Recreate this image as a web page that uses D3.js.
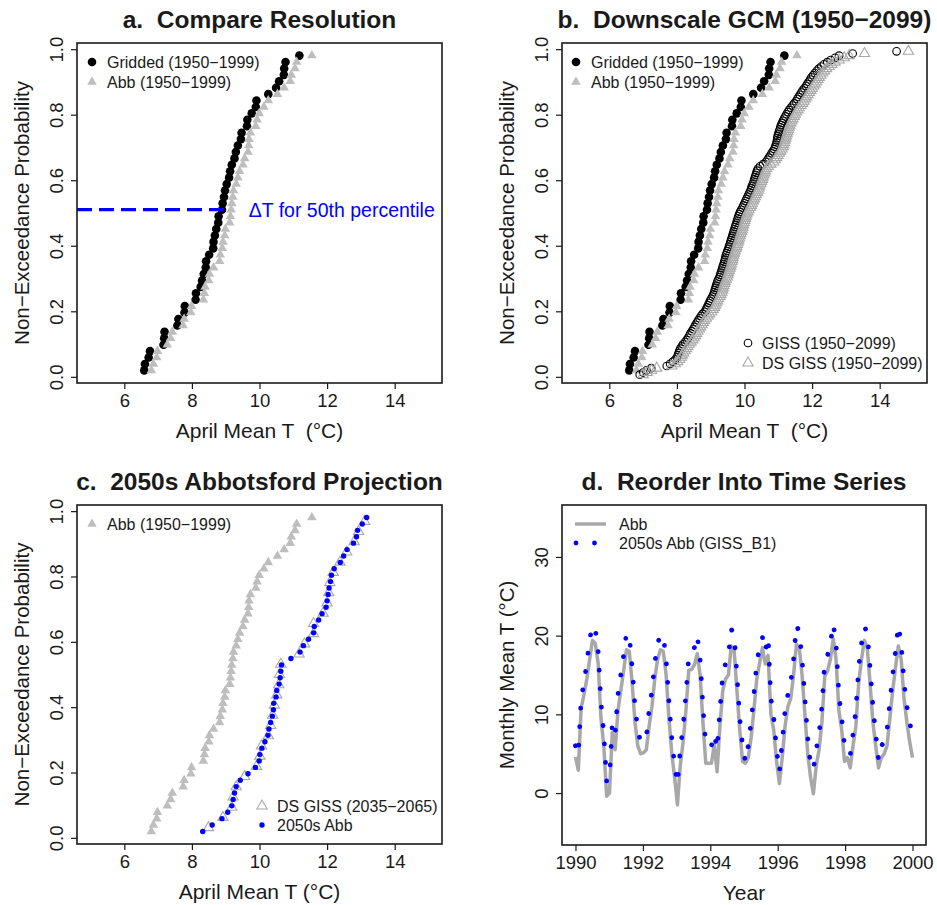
<!DOCTYPE html>
<html>
<head>
<meta charset="utf-8">
<script src="https://cdn.jsdelivr.net/npm/d3@7"></script>
<style>
  body { margin: 0; background: #fff; }
  svg text { font-family: "Liberation Sans", Arial, Helvetica, sans-serif; fill: #1a1a1a; }
</style>
</head>
<body>
<svg id="chart" width="937" height="905"></svg>
<script>
// ---- data (sorted April mean T, deg C) ----
const gridded = [6.59, 6.61, 6.72, 6.76, 7.16, 7.18, 7.19, 7.57, 7.60, 7.78, 7.79, 8.11, 8.12, 8.26, 8.30, 8.35, 8.41, 8.42, 8.51, 8.63,
  8.64, 8.68, 8.72, 8.78, 8.79, 8.89, 8.91, 8.95, 8.98, 9.03, 9.10, 9.13, 9.18, 9.26, 9.30, 9.36, 9.45, 9.47, 9.63, 9.64,
  9.77, 9.89, 9.91, 10.26, 10.49, 10.58, 10.72, 10.73, 10.77, 11.18];

const abb = [6.80, 6.86, 6.96, 6.98, 7.27, 7.37, 7.42, 7.74, 7.77, 7.97, 7.99, 8.34, 8.37, 8.39, 8.50, 8.52, 8.64, 8.82, 8.84, 8.90,
  8.92, 8.97, 8.99, 9.12, 9.14, 9.16, 9.18, 9.21, 9.23, 9.31, 9.36, 9.41, 9.51, 9.56, 9.66, 9.68, 9.69, 9.73, 9.89, 9.93,
  9.99, 10.13, 10.26, 10.53, 10.73, 10.91, 10.94, 11.05, 11.10, 11.55];

const giss = [6.90, 7.00, 7.10, 7.24, 7.70, 7.80, 7.88, 7.95, 8.00, 8.03, 8.05, 8.07, 8.10, 8.14, 8.18, 8.24, 8.29, 8.33, 8.37, 8.40,
  8.44, 8.48, 8.52, 8.55, 8.59, 8.63, 8.67, 8.71, 8.76, 8.82, 8.86, 8.89, 8.92, 8.95, 8.98, 9.01, 9.05, 9.08, 9.10, 9.12,
  9.14, 9.16, 9.18, 9.20, 9.23, 9.26, 9.28, 9.30, 9.32, 9.34, 9.36, 9.38, 9.40, 9.42, 9.43, 9.45, 9.47, 9.49, 9.52, 9.54,
  9.56, 9.58, 9.60, 9.62, 9.64, 9.66, 9.68, 9.70, 9.72, 9.74, 9.76, 9.78, 9.80, 9.82, 9.84, 9.87, 9.90, 9.94, 9.97, 10.00,
  10.03, 10.06, 10.09, 10.12, 10.15, 10.18, 10.20, 10.22, 10.25, 10.27, 10.29, 10.31, 10.33, 10.35, 10.37, 10.40, 10.46, 10.55, 10.63, 10.68,
  10.72, 10.76, 10.80, 10.84, 10.88, 10.91, 10.93, 10.95, 10.96, 10.97, 10.98, 11.00, 11.02, 11.04, 11.06, 11.08, 11.11, 11.14, 11.17, 11.21,
  11.24, 11.28, 11.32, 11.37, 11.42, 11.47, 11.52, 11.56, 11.60, 11.64, 11.68, 11.72, 11.77, 11.82, 11.86, 11.90, 11.94, 11.98, 12.03, 12.08,
  12.14, 12.20, 12.27, 12.35, 12.45, 12.55, 12.68, 12.80, 13.20, 14.50];

const dsGiss = [7.00, 7.12, 7.25, 7.40, 7.85, 7.95, 8.02, 8.08, 8.13, 8.16, 8.20, 8.24, 8.28, 8.32, 8.37, 8.42, 8.47, 8.51, 8.55, 8.58,
  8.62, 8.66, 8.70, 8.74, 8.78, 8.82, 8.87, 8.92, 8.97, 9.03, 9.07, 9.11, 9.14, 9.17, 9.20, 9.23, 9.27, 9.30, 9.33, 9.35,
  9.37, 9.39, 9.41, 9.43, 9.46, 9.49, 9.51, 9.53, 9.55, 9.57, 9.59, 9.61, 9.63, 9.65, 9.66, 9.68, 9.70, 9.72, 9.75, 9.77,
  9.79, 9.81, 9.83, 9.85, 9.87, 9.89, 9.91, 9.93, 9.95, 9.97, 9.99, 10.01, 10.03, 10.05, 10.07, 10.10, 10.13, 10.17, 10.20, 10.23,
  10.26, 10.29, 10.32, 10.35, 10.38, 10.41, 10.43, 10.45, 10.48, 10.50, 10.53, 10.55, 10.57, 10.60, 10.62, 10.65, 10.70, 10.78, 10.86, 10.91,
  10.95, 10.99, 11.03, 11.07, 11.11, 11.14, 11.16, 11.18, 11.20, 11.22, 11.24, 11.26, 11.28, 11.30, 11.32, 11.34, 11.37, 11.40, 11.43, 11.47,
  11.50, 11.54, 11.58, 11.62, 11.67, 11.72, 11.76, 11.80, 11.84, 11.88, 11.92, 11.96, 12.00, 12.05, 12.09, 12.13, 12.17, 12.21, 12.26, 12.31,
  12.37, 12.43, 12.50, 12.58, 12.68, 12.80, 12.95, 13.10, 13.55, 14.85];

const dsGiss2050 = [8.49, 8.92, 9.18, 9.22, 9.31, 9.56, 9.91, 10.01, 10.06, 10.26, 10.33, 10.39, 10.44, 10.51, 10.57, 10.59,
  10.63, 11.17, 11.33, 11.60, 11.60, 11.88, 12.00, 12.05, 12.08, 12.18, 12.38, 12.58, 12.80, 12.93, 13.11];

const abb2050 = [8.32, 8.60, 8.89, 9.06, 9.18, 9.22, 9.26, 9.31, 9.43, 9.66, 9.88, 9.99, 10.01, 10.07, 10.16, 10.25, 10.28, 10.33, 10.38, 10.41,
  10.42, 10.49, 10.51, 10.58, 10.61, 10.63, 10.65, 10.93, 11.20, 11.30, 11.45, 11.60, 11.62, 11.75, 11.85, 11.97, 12.00, 12.03, 12.06, 12.10,
  12.13, 12.21, 12.39, 12.49, 12.59, 12.78, 12.87, 12.90, 13.04, 13.17];

// monthly series, Jan 1990 .. Dec 1999
const abbMonthly = [
  4.6, 2.9, 10.8, 12.5, 14.5, 17.0, 19.4, 19.0, 16.5, 9.5, 6.0, -0.4,
  0.0, 7.7, 5.5, 10.5, 13.0, 15.5, 18.2, 18.0, 14.0, 9.0, 6.0, 5.0,
  5.1, 5.5, 8.5, 11.0, 14.5, 17.0, 18.2, 18.0, 15.0, 9.5, 5.0, 2.0,
  -1.5, 3.5, 6.5, 10.5, 15.6, 15.7, 16.3, 17.7, 15.0, 9.0, 3.8, 3.8,
  3.8, 6.2, 2.7, 8.5, 13.0, 14.5, 15.0, 18.7, 18.3, 13.0, 8.0, 4.0,
  3.8, 4.5, 7.0, 10.5, 14.5, 16.5, 18.5, 16.4, 17.5, 10.0, 8.0, 4.0,
  1.2, 4.5, 8.5, 11.0, 12.0, 15.0, 18.9, 18.5, 15.0, 10.0, 5.0, 2.0,
  -0.1, 3.5, 5.5, 9.0, 14.8, 15.5, 17.0, 19.6, 17.0, 10.5, 8.0, 4.0,
  4.5, 3.2, 6.0, 8.5, 14.0, 17.0, 19.4, 18.5, 14.0, 9.0, 6.0, 3.2,
  4.5, 5.0, 6.0, 9.5, 13.0, 16.0, 18.7, 17.0, 12.0, 9.0, 6.5, 4.5];

const abb2050Monthly = [
  6.0, 4.9, 12.0, 14.0, 16.5, 19.5, 21.3, 20.8, 18.0, 11.5, 7.5, 1.5,
  1.7, 8.8, 7.5, 12.5, 15.0, 17.5, 20.3, 20.0, 16.0, 11.0, 8.0, 6.5,
  6.5, 7.0, 10.5, 13.0, 16.5, 19.0, 20.1, 20.0, 17.0, 11.5, 7.0, 3.5,
  1.2, 5.5, 8.5, 12.5, 17.3, 17.5, 18.5, 20.0, 17.0, 11.0, 6.0, 6.0,
  6.0, 7.5, 5.6, 10.5, 15.0, 16.5, 17.5, 20.8, 20.3, 15.0, 9.5, 6.0,
  4.0, 6.0, 9.0, 12.5, 16.5, 18.5, 19.8, 18.0, 19.8, 12.0, 9.5, 5.5,
  2.7, 6.5, 10.5, 12.5, 14.0, 17.0, 21.3, 20.5, 17.0, 12.0, 7.0, 3.5,
  3.0, 5.5, 7.5, 11.0, 16.5, 17.5, 19.0, 21.5, 19.0, 12.5, 9.5, 6.0,
  5.5, 4.8, 7.5, 10.5, 16.0, 19.0, 21.1, 20.5, 16.0, 11.0, 7.5, 4.2,
  6.0, 6.5, 8.0, 11.5, 15.0, 18.0, 21.3, 19.0, 14.0, 11.0, 9.0, 7.3];

const probTicks = [0, 0.2, 0.4, 0.6, 0.8, 1.0];
const tempTicks = [6, 8, 10, 12, 14];
const yearTicks = [1990, 1992, 1994, 1996, 1998, 2000];
const monthlyTTicks = [0, 10, 20, 30];

// ---- layout ----
const svg = d3.select("#chart");
const GRAY = "#bebebe";
const DARKGRAY = "#a8a8a8";
const DOTTED = "0.001,18.5";   // R lty=3 with a thick line: round dots

const boxes = {
  a: { x0: 77, x1: 442, y0: 43, y1: 383 },
  b: { x0: 562, x1: 927, y0: 43, y1: 383 },
  c: { x0: 77, x1: 442, y0: 505, y1: 844 },
  d: { x0: 562, x1: 926, y0: 505, y1: 845 }
};

// plotting position i/(n+1)
const withProb = arr => arr.map((t, i) => ({ t: t, p: (i + 1) / (arr.length + 1) }));

function makePanel(box, xdom, ydom, xticks, yticks, xfmt, yfmt, title, xlab, ylab) {
  const g = svg.append("g");
  const x = d3.scaleLinear().domain(xdom).range([box.x0, box.x1]);
  const y = d3.scaleLinear().domain(ydom).range([box.y1, box.y0]);

  const xa = g.append("g")
    .attr("transform", `translate(0,${box.y1})`)
    .call(d3.axisBottom(x).tickValues(xticks).tickSize(6).tickPadding(5).tickFormat(xfmt));
  xa.select(".domain").remove();
  xa.attr("font-size", null).attr("font-family", null);
  xa.selectAll("line").attr("stroke", "#1a1a1a").attr("stroke-width", 1.2);
  xa.selectAll("text").style("font-size", "18.5px");

  const ya = g.append("g")
    .attr("transform", `translate(${box.x0},0)`)
    .call(d3.axisLeft(y).tickValues(yticks).tickSize(6).tickFormat(yfmt));
  ya.select(".domain").remove();
  ya.attr("font-size", null).attr("font-family", null);
  ya.selectAll("line").attr("stroke", "#1a1a1a").attr("stroke-width", 1.2);
  ya.selectAll("text")
    .attr("x", null).attr("dy", null)
    .attr("text-anchor", "middle")
    .attr("transform", "translate(-14,0) rotate(-90)")
    .style("font-size", "18.5px");

  // clip so points never spill past the box
  const clipId = "clip" + Math.round(box.x0) + "_" + Math.round(box.y0);
  g.append("clipPath").attr("id", clipId)
    .append("rect").attr("x", box.x0).attr("y", box.y0)
    .attr("width", box.x1 - box.x0).attr("height", box.y1 - box.y0);
  const plot = g.append("g").attr("clip-path", `url(#${clipId})`);

  g.append("text")
    .attr("x", (box.x0 + box.x1) / 2)
    .attr("y", box.y0 - 15)
    .attr("text-anchor", "middle")
    .style("font-size", "24.5px")
    .style("font-weight", "bold")
    .style("white-space", "pre")
    .text(title);

  g.append("text")
    .attr("x", (box.x0 + box.x1) / 2)
    .attr("y", box.y1 + 55)
    .attr("text-anchor", "middle")
    .style("font-size", "21px")
    .style("white-space", "pre")
    .text(xlab);

  g.append("text")
    .attr("transform", `translate(${box.x0 - 48},${(box.y0 + box.y1) / 2}) rotate(-90)`)
    .attr("text-anchor", "middle")
    .style("font-size", "20.5px")
    .text(ylab);

  const frame = g.append("rect")
    .attr("x", box.x0).attr("y", box.y0)
    .attr("width", box.x1 - box.x0).attr("height", box.y1 - box.y0)
    .attr("fill", "none").attr("stroke", "#1a1a1a").attr("stroke-width", 1.6);

  return { g, plot, x, y, frame };
}

const triFilled = d3.symbol().type(d3.symbolTriangle).size(40);
const triOpen = d3.symbol().type(d3.symbolTriangle).size(46);

function drawDots(layer, P, data, r, fill) {
  layer.selectAll(null).data(data).enter().append("circle")
    .attr("cx", d => P.x(d.t)).attr("cy", d => P.y(d.p))
    .attr("r", r).attr("fill", fill);
}
function drawCircles(layer, P, data, r, stroke) {
  layer.selectAll(null).data(data).enter().append("circle")
    .attr("cx", d => P.x(d.t)).attr("cy", d => P.y(d.p))
    .attr("r", r).attr("fill", "none").attr("stroke", stroke).attr("stroke-width", 1.1);
}
function drawTris(layer, P, data, gen, fill, stroke) {
  layer.selectAll(null).data(data).enter().append("path")
    .attr("d", gen)
    .attr("transform", d => `translate(${P.x(d.t)},${P.y(d.p)})`)
    .attr("fill", fill).attr("stroke", stroke || "none").attr("stroke-width", 1.1);
}

function legendText(g, x, y, txt, size) {
  g.append("text").attr("x", x).attr("y", y)
    .style("font-size", (size || 16) + "px").text(txt);
}

const probDom = [-0.0188, 1.0188];
const tDom = [4.6, 15.4];
const fmtProb = d3.format(".1f");
const fmtInt = d3.format("d");

// ---- a. Compare Resolution ----
const A = makePanel(boxes.a, tDom, probDom, tempTicks, probTicks, fmtInt, fmtProb,
  "a.  Compare Resolution", "April Mean T  (\u00B0C)", "Non\u2212Exceedance Probability");
drawDots(A.plot, A, withProb(gridded), 4.3, "#000");
drawTris(A.plot, A, withProb(abb), triFilled, GRAY);

const p50 = 0.51;
A.plot.append("line")
  .attr("x1", A.x(tDom[0])).attr("x2", A.x(9.15))
  .attr("y1", A.y(p50)).attr("y2", A.y(p50))
  .attr("stroke", "blue").attr("stroke-width", 3.2)
  .attr("stroke-dasharray", "15,7");
A.g.append("text")
  .attr("x", A.x(9.68)).attr("y", A.y(p50) + 7)
  .style("font-size", "19.5px").style("fill", "blue")
  .text("\u0394T for 50th percentile");

A.g.append("circle").attr("cx", 92).attr("cy", 62).attr("r", 4.3).attr("fill", "#000");
legendText(A.g, 107, 68, "Gridded (1950\u22121999)");
A.g.append("path").attr("d", triFilled).attr("transform", "translate(92,82)").attr("fill", GRAY);
legendText(A.g, 107, 88, "Abb (1950\u22121999)");

// ---- b. Downscale GCM ----
const B = makePanel(boxes.b, tDom, probDom, tempTicks, probTicks, fmtInt, fmtProb,
  "b.  Downscale GCM (1950\u22122099)", "April Mean T  (\u00B0C)", "Non\u2212Exceedance Probability");
drawDots(B.plot, B, withProb(gridded), 4.3, "#000");
drawTris(B.plot, B, withProb(abb), triFilled, GRAY);
drawCircles(B.plot, B, withProb(giss), 3.8, "#000");
drawTris(B.plot, B, withProb(dsGiss), triOpen, "none", DARKGRAY);

B.g.append("circle").attr("cx", 576).attr("cy", 62).attr("r", 4.3).attr("fill", "#000");
legendText(B.g, 591, 68, "Gridded (1950\u22121999)");
B.g.append("path").attr("d", triFilled).attr("transform", "translate(576,82)").attr("fill", GRAY);
legendText(B.g, 591, 88, "Abb (1950\u22121999)");
B.g.append("circle").attr("cx", 748).attr("cy", 343).attr("r", 3.8)
  .attr("fill", "none").attr("stroke", "#000").attr("stroke-width", 1.1);
legendText(B.g, 762, 349, "GISS (1950\u22122099)");
B.g.append("path").attr("d", triOpen).attr("transform", "translate(748,363)")
  .attr("fill", "none").attr("stroke", DARKGRAY).attr("stroke-width", 1.1);
legendText(B.g, 762, 369, "DS GISS (1950\u22122099)");

// ---- c. 2050s Abbotsford Projection ----
const C = makePanel(boxes.c, tDom, probDom, tempTicks, probTicks, fmtInt, fmtProb,
  "c.  2050s Abbotsford Projection", "April Mean T (\u00B0C)", "Non\u2212Exceedance Probability");
drawTris(C.plot, C, withProb(abb), triFilled, GRAY);
drawTris(C.plot, C, withProb(dsGiss2050), triOpen, "none", DARKGRAY);
drawDots(C.plot, C, withProb(abb2050), 2.7, "blue");

C.g.append("path").attr("d", triFilled).attr("transform", "translate(92,524)").attr("fill", GRAY);
legendText(C.g, 107, 530, "Abb (1950\u22121999)");
C.g.append("path").attr("d", triOpen).attr("transform", "translate(262,806)")
  .attr("fill", "none").attr("stroke", DARKGRAY).attr("stroke-width", 1.1);
legendText(C.g, 277, 812, "DS GISS (2035\u22122065)");
C.g.append("circle").attr("cx", 262).attr("cy", 825).attr("r", 2.7).attr("fill", "blue");
legendText(C.g, 277, 831, "2050s Abb");

// ---- d. Reorder Into Time Series ----
const D = makePanel(boxes.d, [1989.6, 2000.4], [-6.6, 36.6], yearTicks, monthlyTTicks, fmtInt, fmtInt,
  "d.  Reorder Into Time Series", "Year", "Monthly Mean T (\u00B0C)");
const monthX = i => 1990 + i * 10 / (abbMonthly.length - 1);
const line = d3.line().x((d, i) => D.x(monthX(i))).y(d => D.y(d));
D.plot.append("path").datum(abbMonthly)
  .attr("d", line).attr("fill", "none")
  .attr("stroke", DARKGRAY).attr("stroke-width", 3.5).attr("stroke-linejoin", "round");
D.plot.append("path").datum(abb2050Monthly)
  .attr("d", line).attr("fill", "none")
  .attr("stroke", "blue").attr("stroke-width", 4.8)
  .attr("stroke-linecap", "round").attr("stroke-dasharray", DOTTED);

D.g.append("line").attr("x1", 575).attr("x2", 606).attr("y1", 524).attr("y2", 524)
  .attr("stroke", DARKGRAY).attr("stroke-width", 3.5);
legendText(D.g, 619, 530, "Abb");
D.g.append("line").attr("x1", 576).attr("x2", 606).attr("y1", 543).attr("y2", 543)
  .attr("stroke", "blue").attr("stroke-width", 4.8)
  .attr("stroke-linecap", "round").attr("stroke-dasharray", DOTTED);
legendText(D.g, 619, 549, "2050s Abb (GISS_B1)");
</script>
</body>
</html>
